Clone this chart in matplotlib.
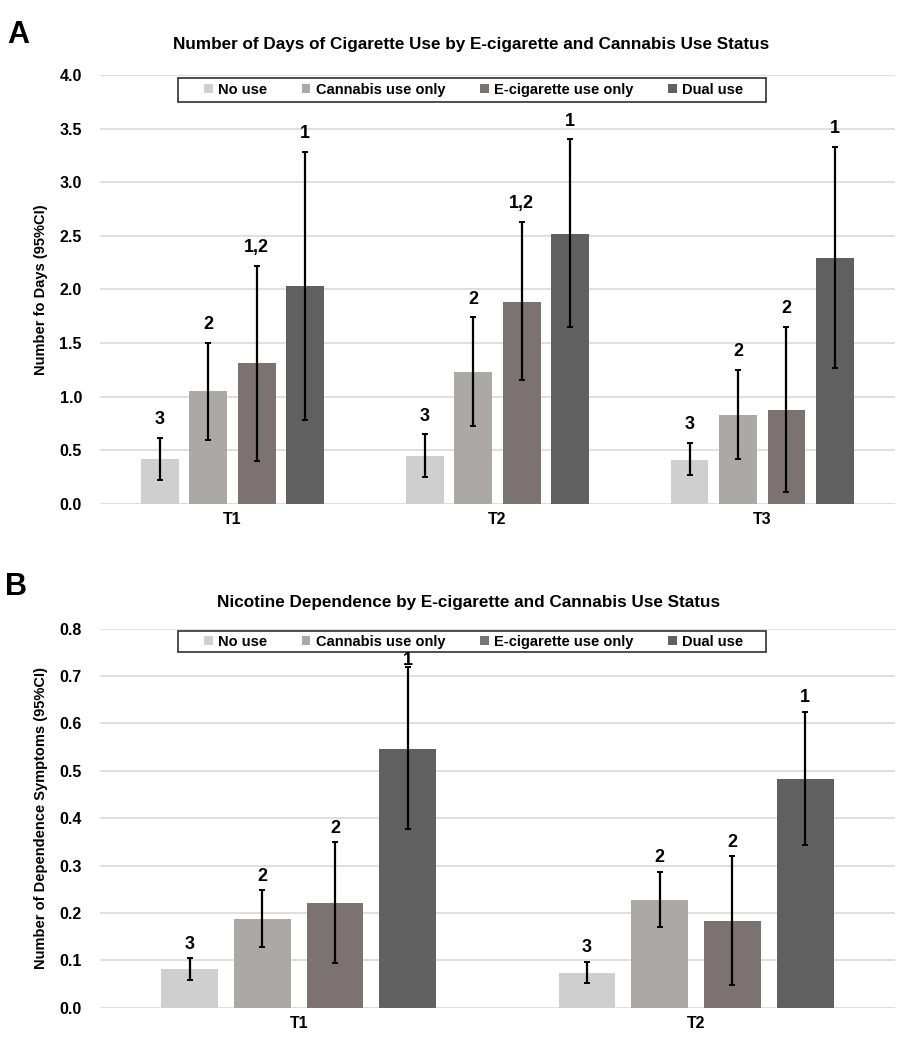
import numpy as np
import matplotlib
matplotlib.use("Agg")
import matplotlib.pyplot as plt
from matplotlib.patches import Rectangle

plt.rcParams["font.family"] = ["Liberation Sans", "DejaVu Sans"]
plt.rcParams["font.weight"] = "bold"

grupos = ["No use", "Cannabis use only", "E-cigarette use only", "Dual use"]
cores = ["#d0cfd0", "#aba8a6", "#7b7271", "#606060"]

# painel A: dias de uso de cigarro
tempos_a = ["T1", "T2", "T3"]
media_a = [[0.42, 0.45, 0.41],
           [1.05, 1.23, 0.83],
           [1.31, 1.88, 0.88],
           [2.03, 2.52, 2.29]]
ic_inf_a = [[0.22, 0.25, 0.27],
            [0.60, 0.73, 0.42],
            [0.40, 1.16, 0.11],
            [0.78, 1.65, 1.27]]
ic_sup_a = [[0.62, 0.65, 0.57],
            [1.50, 1.74, 1.25],
            [2.22, 2.63, 1.65],
            [3.28, 3.40, 3.33]]
rotulos_a = [["3", "3", "3"],
             ["2", "2", "2"],
             ["1,2", "1,2", "2"],
             ["1", "1", "1"]]

# painel B: sintomas de dependencia
tempos_b = ["T1", "T2"]
media_b = [[0.081, 0.073],
           [0.188, 0.227],
           [0.221, 0.184],
           [0.545, 0.483]]
ic_inf_b = [[0.058, 0.053],
            [0.129, 0.170],
            [0.094, 0.048],
            [0.377, 0.343]]
ic_sup_b = [[0.104, 0.097],
            [0.248, 0.287],
            [0.349, 0.320],
            [0.718, 0.624]]
rotulos_b = [["3", "3"],
             ["2", "2"],
             ["2", "2"],
             ["1", "1"]]


def desenha(ax, tempos, media, inf, sup, rotulos, ymax, passo, ylabel, offset):
    x = np.arange(len(tempos))
    largura = 0.143
    step = 0.183
    handles = []
    for i in range(4):
        pos = x + (i - 1.5) * step
        m = np.array(media[i])
        err = [m - np.array(inf[i]), np.array(sup[i]) - m]
        h = ax.bar(pos, m, width=largura, color=cores[i], label=grupos[i], zorder=2)
        handles.append(h)
        ax.errorbar(pos, m, yerr=err, fmt="none", ecolor="black",
                    elinewidth=1.6, capsize=2.5, capthick=1.4, zorder=3)
        for p, s, r in zip(pos, sup[i], rotulos[i]):
            # perto da legenda o rotulo fica colado na barra de erro
            if s > 0.85 * ymax:
                off, va = 2, "baseline"
            else:
                off, va = offset, "bottom"
            ax.annotate(r, (p, s), xytext=(0, off), textcoords="offset points",
                        ha="center", va=va, fontsize=13, fontweight="bold",
                        zorder=6)

    ax.set_xlim(-0.5, len(tempos) - 0.5)
    ax.set_ylim(0, ymax)
    ax.set_yticks(np.arange(0, ymax + passo / 2, passo))
    ax.yaxis.set_major_formatter(matplotlib.ticker.FormatStrFormatter("%.1f"))
    ax.set_xticks(x)
    ax.set_xticklabels(tempos, fontsize=11.5, fontweight="bold")
    ax.tick_params(axis="both", length=0, labelsize=11.5, pad=6)
    ax.tick_params(axis="y", pad=13)
    ax.grid(axis="y", color="#d9d9d9", linewidth=1.2, zorder=0)
    for sp in ax.spines.values():
        sp.set_visible(False)
    ax.set_ylabel(ylabel, fontsize=10.5, fontweight="bold", labelpad=8)

    # caixa da legenda desenhada a parte
    ax.add_patch(Rectangle((0.098, 0.938), 0.74, 0.055, transform=ax.transAxes,
                           facecolor="white", edgecolor="#303030",
                           linewidth=1.2, zorder=4, clip_on=False))
    leg = ax.legend(handles=handles, loc="center", bbox_to_anchor=(0.47, 0.9655),
                    ncol=4, fontsize=10.5, frameon=False, handlelength=0.6,
                    handleheight=0.6, handletextpad=0.35, columnspacing=2.4,
                    borderpad=0, borderaxespad=0)
    leg.set_zorder(5)
    for t in leg.get_texts():
        t.set_fontweight("bold")


fig = plt.figure(figsize=(9.02, 10.5), dpi=100)

ax_a = fig.add_axes([0.1109, 0.52, 0.881, 0.4086])
desenha(ax_a, tempos_a, media_a, ic_inf_a, ic_sup_a, rotulos_a, 4.0, 0.5,
        "Number fo Days (95%CI)", 7)

ax_b = fig.add_axes([0.1109, 0.0403, 0.881, 0.361])
desenha(ax_b, tempos_b, media_b, ic_inf_b, ic_sup_b, rotulos_b, 0.8, 0.1,
        "Number of Dependence Symptoms (95%CI)", 4)

fig.text(471 / 902, 1 - 45 / 1050,
         "Number of Days of Cigarette Use by E-cigarette and Cannabis Use Status",
         ha="center", va="center", fontsize=12.3, fontweight="bold")
fig.text(469 / 902, 1 - 602 / 1050,
         "Nicotine Dependence by E-cigarette and Cannabis Use Status",
         ha="center", va="center", fontsize=12.3, fontweight="bold")
fig.text(18 / 902, 1 - 35 / 1050, "A", ha="center", va="center",
         fontsize=22, fontweight="bold")
fig.text(16 / 902, 1 - 587 / 1050, "B", ha="center", va="center",
         fontsize=22, fontweight="bold")

fig.savefig("out.png", dpi=100)
